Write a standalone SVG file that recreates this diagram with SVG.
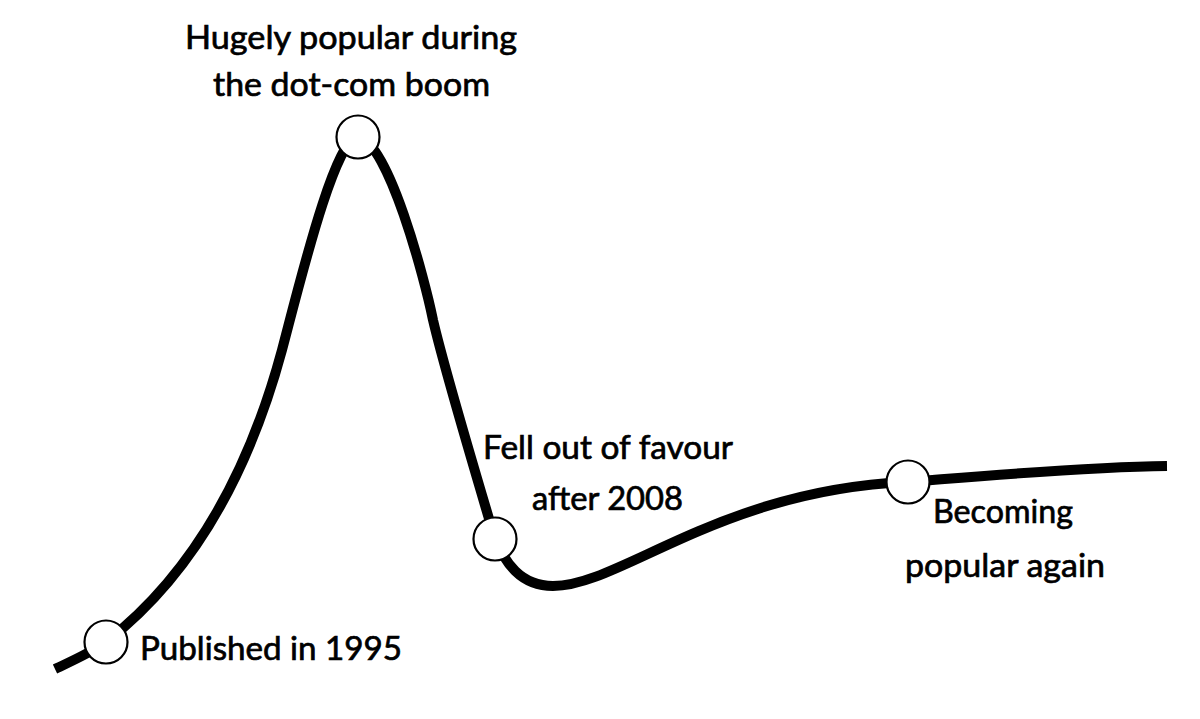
<svg xmlns="http://www.w3.org/2000/svg" width="1200" height="719" viewBox="0 0 1200 719">
<style>
.curve{fill:none;stroke:#000;stroke-width:10;stroke-linecap:butt;stroke-linejoin:round}
.dot{fill:#fff;stroke:#000;stroke-width:2.2}
.lbl{font-family:Lato,"Open Sans","Liberation Sans",sans-serif;font-size:33px;fill:#000;stroke:#000;stroke-width:0.7}
</style>
<rect width="1200" height="719" fill="#fff"/>
<g id="connectors">
<path class="curve" d="M55 669 C72 661 92 652 106 642 C205 565 255 450 282 350 C300 282 335 137 358 137 C388 140 425 280 433 320 C445 372 485 505 495 539 C505 562 520 586 553 586 C620 586 720 490 907 482 C960 478 1080 467 1167 466"/>
</g>
<g id="node-published">
<circle class="dot" cx="106" cy="642" r="21.5"/>
<text class="lbl" x="140" y="660" textLength="262" lengthAdjust="spacingAndGlyphs">Published in 1995</text>
</g>
<g id="node-peak">
<circle class="dot" cx="358" cy="137" r="21.5"/>
<text class="lbl" x="185" y="49" textLength="332" lengthAdjust="spacingAndGlyphs">Hugely popular during</text>
<text class="lbl" x="213" y="96" textLength="277" lengthAdjust="spacingAndGlyphs">the dot-com boom</text>
</g>
<g id="node-fell">
<circle class="dot" cx="495" cy="539" r="21.5"/>
<text class="lbl" x="483" y="459" textLength="250" lengthAdjust="spacingAndGlyphs">Fell out of favour</text>
<text class="lbl" x="532" y="510" textLength="151" lengthAdjust="spacingAndGlyphs">after 2008</text>
</g>
<g id="node-again">
<circle class="dot" cx="908" cy="482" r="21.5"/>
<text class="lbl" x="933" y="523" textLength="140" lengthAdjust="spacingAndGlyphs">Becoming</text>
<text class="lbl" x="905" y="577" textLength="200" lengthAdjust="spacingAndGlyphs">popular again</text>
</g>
</svg>
